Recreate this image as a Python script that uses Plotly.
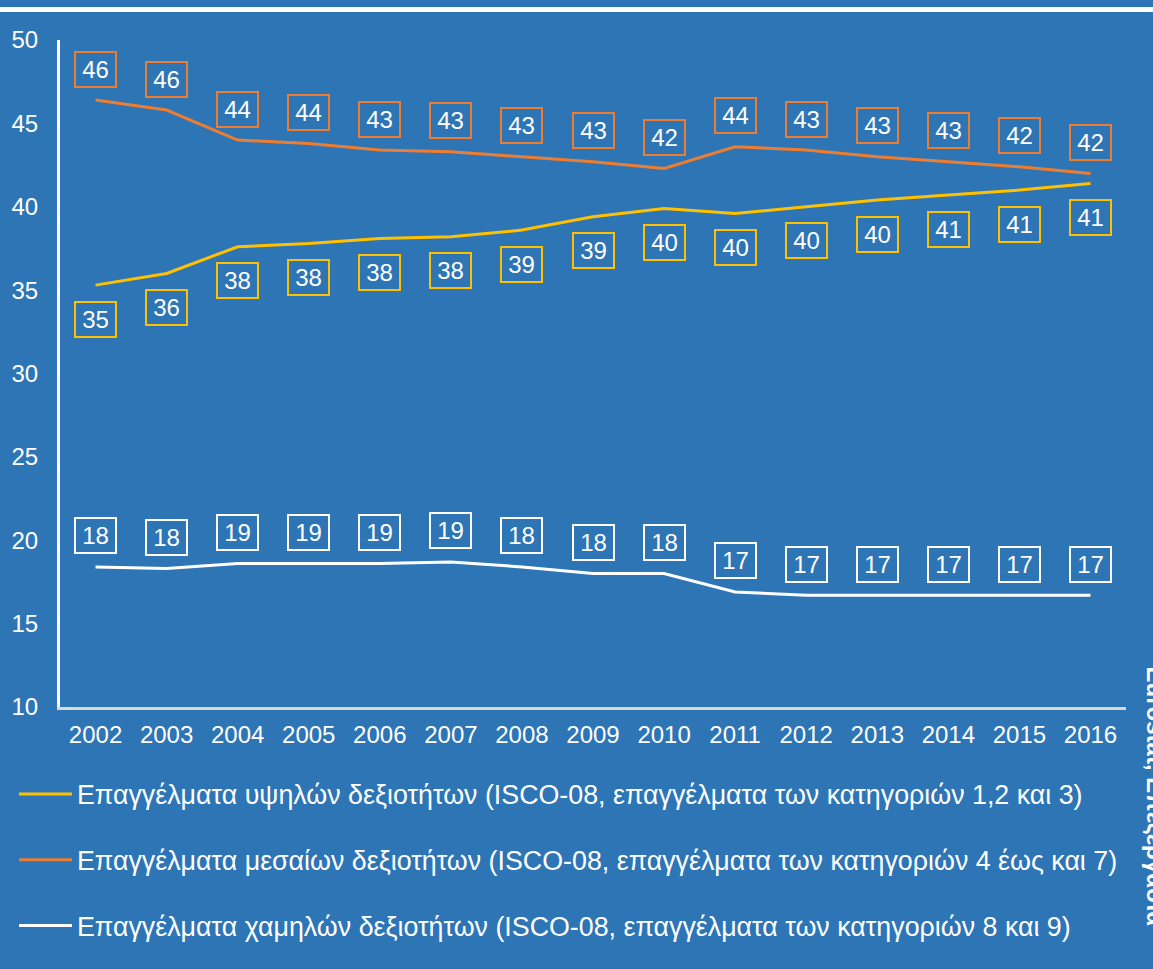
import plotly.graph_objects as go

BG = "#2E75B6"
FONT = "Liberation Sans, Arial, sans-serif"

years = [str(y) for y in range(2002, 2017)]

high_skill = [35.3, 36.0, 37.6, 37.8, 38.1, 38.2, 38.6, 39.4, 39.9, 39.6, 40.0, 40.4, 40.7, 41.0, 41.4]
mid_skill = [46.4, 45.8, 44.0, 43.8, 43.4, 43.3, 43.0, 42.7, 42.3, 43.6, 43.4, 43.0, 42.7, 42.4, 42.0]
low_skill = [18.4, 18.3, 18.6, 18.6, 18.6, 18.7, 18.4, 18.0, 18.0, 16.9, 16.7, 16.7, 16.7, 16.7, 16.7]

series = [
    ("Επαγγέλματα υψηλών δεξιοτήτων (ISCO-08, επαγγέλματα των κατηγοριών 1,2 και 3)",
     high_skill, "#FFC000", -34),
    ("Επαγγέλματα μεσαίων δεξιοτήτων (ISCO-08, επαγγέλματα των κατηγοριών 4 έως και 7)",
     mid_skill, "#ED7D31", 31),
    ("Επαγγέλματα χαμηλών δεξιοτήτων (ISCO-08, επαγγέλματα των κατηγοριών 8 και 9)",
     low_skill, "#FFFFFF", 31),
]

fig = go.Figure()

annotations = []
for idx, (name, values, color, shift) in enumerate(series):
    fig.add_trace(
        go.Scatter(
            name=name,
            x=years,
            y=values,
            mode="lines",
            line=dict(color=color, width=3),
            legendgroup=f"g{idx}",
        )
    )
    # boxed value labels; x as category index
    for i, v in enumerate(values):
        annotations.append(
            dict(
                x=i,
                y=v,
                text=str(round(v)),
                showarrow=False,
                yshift=shift,
                font=dict(family=FONT, size=24, color="white"),
                bordercolor=color,
                borderwidth=2,
                borderpad=0,
                width=39,
                height=33,
            )
        )

annotations.append(
    dict(
        xref="paper",
        yref="paper",
        x=1.0131,
        y=-0.135,
        xanchor="left",
        yanchor="middle",
        text="<b>Eurostat, Επεξεργασία</b>",
        textangle=90,
        showarrow=False,
        font=dict(family=FONT, size=24, color="white"),
    )
)

fig.update_layout(
    width=1153,
    height=969,
    paper_bgcolor=BG,
    plot_bgcolor=BG,
    margin=dict(l=60, r=27, t=40, b=262, autoexpand=False),
    font=dict(family=FONT, size=24, color="white"),
    annotations=annotations,
    shapes=[
        dict(
            type="line",
            xref="paper",
            yref="paper",
            x0=-0.0563,
            x1=1.0253,
            y0=1.0457,
            y1=1.0457,
            line=dict(color="white", width=5),
        )
    ],
    legend=dict(
        xref="container",
        yref="container",
        x=14 / 1153,
        y=1 - 770 / 969,
        xanchor="left",
        yanchor="top",
        bgcolor="rgba(0,0,0,0)",
        font=dict(family=FONT, size=26.8, color="white"),
        tracegroupgap=28,
        itemwidth=53,
    ),
    showlegend=True,
)

fig.update_xaxes(
    type="category",
    range=[-0.5, 14.5],
    showgrid=False,
    showline=True,
    linecolor="#D9D9D9",
    linewidth=3,
    ticks="",
    ticklabelstandoff=4,
    tickfont=dict(size=24, color="white"),
)
fig.update_yaxes(
    range=[10, 50],
    dtick=5,
    showgrid=False,
    zeroline=False,
    showline=True,
    linecolor="white",
    linewidth=3,
    ticks="",
    ticklabelstandoff=14,
    tickfont=dict(size=24, color="white"),
)

fig.write_html(
    "out.html",
    config={"displayModeBar": False},
    post_script="document.body.style.margin='0';document.body.style.overflow='hidden';",
)
